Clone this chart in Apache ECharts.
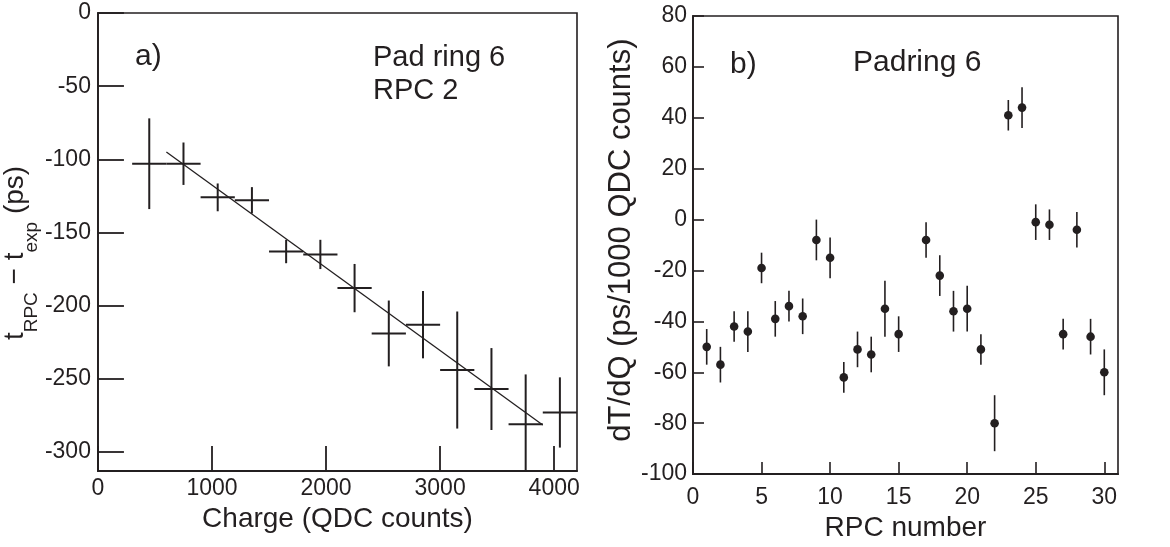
<!DOCTYPE html>
<html>
<head>
<meta charset="utf-8">
<script src="https://cdn.jsdelivr.net/npm/echarts@6/dist/echarts.min.js"></script>
<style>
html,body{margin:0;padding:0;background:#fff;}
#chart{width:1170px;height:547px;}
</style>
</head>
<body>
<div id="chart"></div>
<script>
// ---- Panel a) data ----
const chargeBins = [450, 750, 1050, 1350, 1650, 1950, 2250, 2550, 2850, 3150, 3450, 3750, 4050];
const chargeHalfWidth = [150, 150, 150, 150, 150, 150, 150, 150, 150, 150, 150, 150, 150];
const deltaT = [-103, -103, -126, -128, -163, -165, -188, -219, -213, -244, -257, -281, -273];
const deltaTErr = [31, 14.5, 9.5, 9, 8, 10, 16.5, 22.5, 23, 40, 28, 34, 24];
const fitCharge = [600, 3900];
const fitT = [-95, -281.5];
const chargeTicks = [0, 1000, 2000, 3000, 4000];
const deltaTTicks = [-300, -250, -200, -150, -100, -50, 0];

// ---- Panel b) data ----
const rpcNumbers = [1, 2, 3, 4, 5, 6, 7, 8, 9, 10, 11, 12, 13, 14, 15, 17, 18, 19, 20, 21, 22, 23, 24, 25, 26, 27, 28, 29, 30];
const slopes = [-50, -57, -42, -44, -19, -39, -34, -38, -8, -15, -62, -51, -53, -35, -45, -8, -22, -36, -35, -51, -80, 41, 44, -1, -2, -45, -4, -46, -60];
const slopeErr = [7, 7, 6, 8, 6, 7, 6, 7, 8, 8, 6, 7, 7, 11, 7, 7, 8, 8, 9, 6, 11, 6, 8, 7, 6, 6, 7, 7, 9];
const rpcTicks = [0, 5, 10, 15, 20, 25, 30];
const slopeTicks = [-100, -80, -60, -40, -20, 0, 20, 40, 60, 80];

const INK = '#231f20';
const FONT = '"Liberation Sans", Arial, Helvetica, sans-serif';

const chart = echarts.init(document.getElementById('chart'), null, {renderer: 'canvas'});

const crossData = chargeBins.map((x, i) => [x, deltaT[i], chargeHalfWidth[i], deltaTErr[i]]);
const dotData = rpcNumbers.map((x, i) => [x, slopes[i], slopeErr[i]]);

function renderCross(params, api) {
  const x = api.value(0), y = api.value(1), hw = api.value(2), e = api.value(3);
  const pL = api.coord([x - hw, y]), pR = api.coord([x + hw, y]);
  const pT = api.coord([x, y + e]), pB = api.coord([x, y - e]);
  return {
    type: 'group',
    children: [
      {type: 'line', shape: {x1: pL[0], y1: pL[1], x2: pR[0], y2: pR[1]}, style: {stroke: INK, lineWidth: 2}},
      {type: 'line', shape: {x1: pT[0], y1: pT[1], x2: pB[0], y2: pB[1]}, style: {stroke: INK, lineWidth: 2}}
    ]
  };
}

function renderDot(params, api) {
  const x = api.value(0), y = api.value(1), e = api.value(2);
  const p = api.coord([x, y]);
  const pT = api.coord([x, y + e]), pB = api.coord([x, y - e]);
  return {
    type: 'group',
    children: [
      {type: 'line', shape: {x1: pT[0], y1: pT[1], x2: pB[0], y2: pB[1]}, style: {stroke: INK, lineWidth: 1.6}},
      {type: 'circle', shape: {cx: p[0], cy: p[1], r: 4.3}, style: {fill: INK}}
    ]
  };
}

const plain = v => String(v);
const axisLabelStyle = {color: INK, fontFamily: FONT, fontSize: 23, formatter: plain};
const axisLineStyle = {show: true, onZero: false, lineStyle: {color: INK, width: 1.8}};

const option = {
  animation: false,
  backgroundColor: '#fff',
  textStyle: {fontFamily: FONT, color: INK},
  grid: [
    {left: 97, top: 13, width: 480, height: 458, show: true, borderColor: INK, borderWidth: 1.6, backgroundColor: 'transparent'},
    {left: 693, top: 16, width: 425, height: 464, show: true, borderColor: INK, borderWidth: 1.6, backgroundColor: 'transparent'}
  ],
  xAxis: [
    {
      type: 'value', gridIndex: 0, min: 0, max: 4200,
      axisLine: axisLineStyle,
      axisTick: {show: true, inside: true, length: 25, lineStyle: {color: INK, width: 1.8}, customValues: chargeTicks},
      axisLabel: Object.assign({margin: 6, customValues: chargeTicks}, axisLabelStyle),
      splitLine: {show: false},
      name: 'Charge (QDC counts)', nameLocation: 'middle', nameGap: 33,
      nameTextStyle: {fontFamily: FONT, fontSize: 28, color: INK}
    },
    {
      type: 'value', gridIndex: 1, min: 0, max: 31,
      axisLine: axisLineStyle,
      axisTick: {show: true, inside: true, length: 12, lineStyle: {color: INK, width: 1.6}, customValues: rpcTicks},
      axisLabel: Object.assign({margin: 12, customValues: rpcTicks}, axisLabelStyle),
      splitLine: {show: false},
      name: 'RPC number', nameLocation: 'middle', nameGap: 33,
      nameTextStyle: {fontFamily: FONT, fontSize: 28, color: INK}
    }
  ],
  yAxis: [
    {
      type: 'value', gridIndex: 0, min: -313, max: 0,
      axisLine: axisLineStyle,
      axisTick: {show: true, inside: true, length: 26, lineStyle: {color: INK, width: 1.8}, customValues: deltaTTicks},
      axisLabel: Object.assign({margin: 7, customValues: deltaTTicks}, axisLabelStyle),
      splitLine: {show: false},
      name: '{m|t}{s|RPC}{m| − t}{s|exp}{m| (ps)}',
      nameLocation: 'middle', nameGap: 45, nameRotate: 90,
      nameTextStyle: {
        color: INK, fontFamily: FONT, padding: [0, 22, 0, 0],
        rich: {
          m: {fontFamily: FONT, fontSize: 28, lineHeight: 30, verticalAlign: 'top', color: INK},
          s: {fontFamily: FONT, fontSize: 19, lineHeight: 40, verticalAlign: 'bottom', color: INK}
        }
      }
    },
    {
      type: 'value', gridIndex: 1, min: -100, max: 80, interval: 20,
      axisLine: axisLineStyle,
      axisTick: {show: true, inside: true, length: 11, lineStyle: {color: INK, width: 1.6}, customValues: slopeTicks},
      axisLabel: Object.assign({margin: 6, customValues: slopeTicks}, axisLabelStyle),
      splitLine: {show: false},
      name: 'dT/dQ (ps/1000 QDC counts)',
      nameLocation: 'middle', nameGap: 38, nameRotate: 90,
      nameTextStyle: {fontFamily: FONT, fontSize: 31, color: INK, padding: [0, 0, 0, 10]}
    }
  ],
  series: [
    {
      type: 'custom', xAxisIndex: 0, yAxisIndex: 0, clip: true,
      data: crossData, encode: {x: 0, y: 1}, renderItem: renderCross, silent: true
    },
    {
      type: 'line', xAxisIndex: 0, yAxisIndex: 0,
      data: fitCharge.map((x, i) => [x, fitT[i]]),
      symbol: 'none', lineStyle: {color: INK, width: 1.3}, silent: true
    },
    {
      type: 'custom', xAxisIndex: 1, yAxisIndex: 1, clip: true,
      data: dotData, encode: {x: 0, y: 1}, renderItem: renderDot, silent: true
    }
  ],
  graphic: [
    {type: 'text', left: 135, top: 42, style: {text: 'a)', font: '30px ' + FONT, fill: INK}},
    {type: 'text', left: 373, top: 43, style: {text: 'Pad ring 6', font: '29px ' + FONT, fill: INK}},
    {type: 'text', left: 373, top: 76, style: {text: 'RPC 2', font: '29px ' + FONT, fill: INK}},
    {type: 'text', left: 730, top: 50, style: {text: 'b)', font: '30px ' + FONT, fill: INK}},
    {type: 'text', left: 853, top: 48, style: {text: 'Padring 6', font: '30px ' + FONT, fill: INK}}
  ]
};

chart.setOption(option);
</script>
</body>
</html>
